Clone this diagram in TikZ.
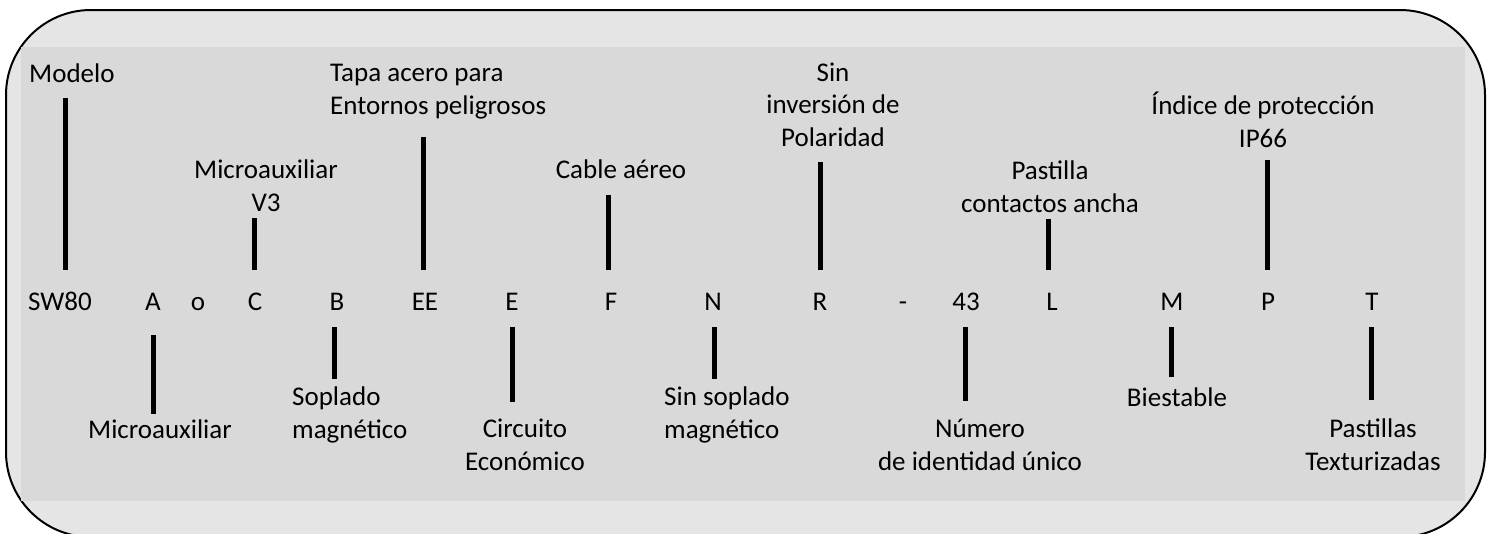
\documentclass[tikz,border=0pt]{standalone}
\usepackage{fontspec}
\setmainfont{Carlito}
\definecolor{framebg}{HTML}{E5E5E5}
\definecolor{panelbg}{HTML}{D9D9D9}
\begin{document}
\begin{tikzpicture}[x=1pt,y=-1pt,
		font=\fontsize{27}{32.5}\selectfont,
		bar/.style={line width=5pt},
		code/.style={anchor=base,text height=40pt,text depth=17pt,inner sep=0pt},
		note/.style={anchor=base,align=center,inner sep=0pt}]
			% frame and panel
			\clip (0,0) rectangle (1489,533);
			\filldraw[fill=framebg,draw=black,line width=2pt,rounded corners=85pt] (6,10) rectangle (1485,537);
			\fill[panelbg] (21,47) rectangle (1465,501);
			% code letters
			\node[code,anchor=base west] (sw) at (28,310) {SW80};
			\node[code] (a) at (153,310) {A};
			\node[code] (o) at (198,310) {o};
			\node[code] (c) at (255,310) {C};
			\node[code] (b) at (337,310) {B};
			\node[code] (ee) at (425,310) {EE};
			\node[code] (e) at (512,310) {E};
			\node[code] (f) at (611,310) {F};
			\node[code] (n) at (713,310) {N};
			\node[code] (r) at (820,310) {R};
			\node[code] (dash) at (903,310) {-};
			\node[code] (num) at (966,310) {43};
			\node[code] (l) at (1052,310) {L};
			\node[code] (m) at (1172,310) {M};
			\node[code] (p) at (1268,310) {P};
			\node[code] (t) at (1372,310) {T};
			% labels above (base = last line)
			\node[note,anchor=base west] (modelo) at (29,82) {Modelo};
			\node[note] (microv) at (266,211) {Microauxiliar\\V3};
			\node[note,anchor=base west,align=left] (tapa) at (330,114) {Tapa acero para\\Entornos peligrosos};
			\node[note] (cable) at (621,178) {Cable aéreo};
			\node[note] (inversion) at (833,146) {Sin\\inversión de\\Polaridad};
			\node[note] (pastilla) at (1050,212) {Pastilla\\contactos ancha};
			\node[note] (indice) at (1263,147) {Índice de protección\\IP66};
			% labels below
			\node[note] (microaux) at (160,438) {Microauxiliar};
			\node[note,anchor=base west,align=left] (soplado) at (292,438) {Soplado\\magnético};
			\node[note] (circuito) at (525,470) {Circuito\\Económico};
			\node[note,anchor=base west,align=left] (sinsoplado) at (664,438) {Sin soplado\\magnético};
			\node[note] (numero) at (980,470) {Número\\de identidad único};
			\node[note] (biestable) at (1177,406) {Biestable};
			\node[note] (pastillas) at (1373,470) {Pastillas\\Texturizadas};
			% bar tips
			\coordinate (modelo-tip) at (65,98);
			\coordinate (microv-tip) at (254,218);
			\coordinate (tapa-tip) at (423,137);
			\coordinate (cable-tip) at (608,195);
			\coordinate (inversion-tip) at (820,162);
			\coordinate (pastilla-tip) at (1048,219);
			\coordinate (indice-tip) at (1267,160);
			\coordinate (microaux-tip) at (153,414);
			\coordinate (soplado-tip) at (334,379);
			\coordinate (circuito-tip) at (512,402);
			\coordinate (sinsoplado-tip) at (714,379);
			\coordinate (numero-tip) at (965,401);
			\coordinate (biestable-tip) at (1171,377);
			\coordinate (pastillas-tip) at (1371,400);
			% bars
			\draw[bar] (modelo-tip) -- (modelo-tip |- sw.north);
			\draw[bar] (microv-tip) -- (microv-tip |- c.north);
			\draw[bar] (tapa-tip) -- (tapa-tip |- ee.north);
			\draw[bar] (cable-tip) -- (cable-tip |- f.north);
			\draw[bar] (inversion-tip) -- (inversion-tip |- r.north);
			\draw[bar] (pastilla-tip) -- (pastilla-tip |- l.north);
			\draw[bar] (indice-tip) -- (indice-tip |- p.north);
			\draw[bar,shorten <=8pt] (microaux-tip |- a.south) -- (microaux-tip);
			\draw[bar] (soplado-tip |- b.south) -- (soplado-tip);
			\draw[bar] (circuito-tip |- e.south) -- (circuito-tip);
			\draw[bar] (sinsoplado-tip |- n.south) -- (sinsoplado-tip);
			\draw[bar] (numero-tip |- num.south) -- (numero-tip);
			\draw[bar] (biestable-tip |- m.south) -- (biestable-tip);
			\draw[bar] (pastillas-tip |- t.south) -- (pastillas-tip);
\end{tikzpicture}
\end{document}
